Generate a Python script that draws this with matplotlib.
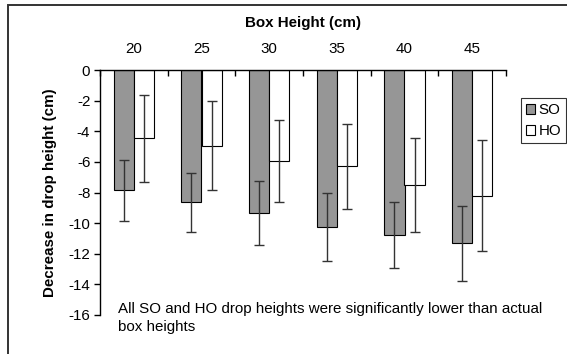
import numpy as np
import matplotlib
matplotlib.use("Agg")
import matplotlib.pyplot as plt
from matplotlib.patches import Rectangle

plt.rcParams['font.family'] = ['Liberation Sans', 'DejaVu Sans']
plt.rcParams['axes.unicode_minus'] = False

# ---------- Data ----------
box_heights = ["20", "25", "30", "35", "40", "45"]
so_mean = [-7.85, -8.65, -9.35, -10.25, -10.8, -11.3]
so_err = [2.0, 1.95, 2.1, 2.2, 2.15, 2.45]
ho_mean = [-4.45, -4.95, -5.95, -6.3, -7.5, -8.2]
ho_err = [2.85, 2.9, 2.7, 2.8, 3.05, 3.6]
series_names = ["SO", "HO"]
note = "All SO and HO drop heights were significantly lower than actual\nbox heights"

# ---------- Figure ----------
W, H = 567, 354
fs = 10.9
fig = plt.figure(figsize=(W / 100, H / 100), dpi=100)
fig.patch.set_facecolor("white")

# outer chart frame (right/bottom edges fall outside the image)
fig.patches.append(Rectangle((7.5 / W, -0.05), 1.2, 1 - 5 / H + 0.05,
                             transform=fig.transFigure, fill=False,
                             edgecolor="#333333", linewidth=1.4))

ax = fig.add_axes([100 / W, 1 - 315 / H, 406 / W, 245 / H])
x = np.arange(1, len(box_heights) + 1)
bw = 0.296
ekw = dict(ecolor="#333333", elinewidth=1.0, capsize=3.3, capthick=1.0)

ax.bar(x - bw / 2, so_mean, bw, color="#969696", edgecolor="black",
       linewidth=0.8, yerr=so_err, error_kw=ekw, label=series_names[0], zorder=2)
ax.bar(x + bw / 2, ho_mean, bw, color="white", edgecolor="black",
       linewidth=0.8, yerr=ho_err, error_kw=ekw, label=series_names[1], zorder=2)

ax.set_xlim(0.5, len(box_heights) + 0.5)
ax.set_ylim(-16, 0)

for s in ["right", "bottom"]:
    ax.spines[s].set_visible(False)
ax.spines["top"].set_linewidth(1.0)
ax.spines["left"].set_linewidth(1.0)

ax.xaxis.tick_top()
ax.set_xticks(np.arange(0.5, len(box_heights) + 1.0, 1.0))
ax.set_xticklabels([])
ax.set_xticks(x, minor=True)
ax.set_xticklabels(box_heights, minor=True, fontsize=fs)
ax.tick_params(axis="x", which="major", direction="in", length=4, width=1.0)
ax.tick_params(axis="x", which="minor", length=0, pad=10)
ax.xaxis.set_label_position("top")
ax.set_xlabel("Box Height (cm)", fontsize=fs, fontweight="bold", labelpad=11)

ax.set_yticks(np.arange(-16, 1, 2))
ax.tick_params(axis="y", direction="out", length=4, width=1.0, labelsize=fs, pad=3)
ax.set_ylabel("Decrease in drop height (cm)", fontsize=fs, fontweight="bold", labelpad=8)

ax.text(118 / W, 1 - 302 / H, note, transform=fig.transFigure, fontsize=fs,
        va="top", ha="left", linespacing=1.4)

leg = fig.legend(loc="upper left", bbox_to_anchor=(521 / W, 1 - 98 / H),
                 frameon=True, fancybox=False, edgecolor="black", fontsize=fs,
                 handlelength=0.6, handleheight=0.6, handletextpad=0.2,
                 borderpad=0.35, labelspacing=0.45, borderaxespad=0)
leg.get_frame().set_linewidth(0.8)

fig.savefig("out.png", dpi=100)
